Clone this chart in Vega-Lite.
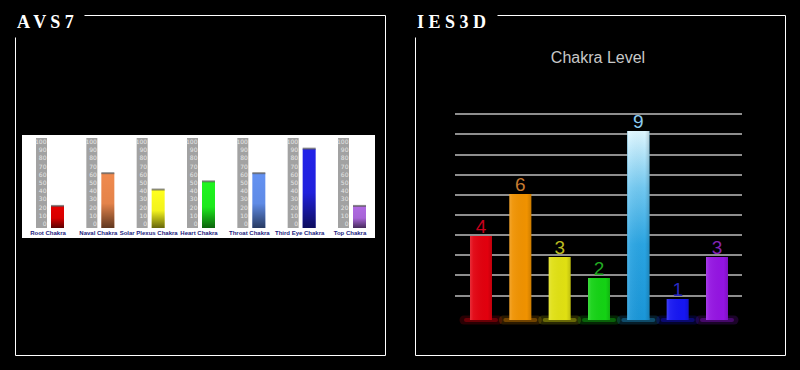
{
  "$schema": "https://vega.github.io/schema/vega-lite/v6.json",
  "background": "black",
  "padding": {"left": 14, "top": 13, "right": 15, "bottom": 15},
  "spacing": 30,
  "bounds": "flush",
  "datasets": {
    "avs": [
      {"chakra": "Root Chakra", "level": 22},
      {"chakra": "Naval Chakra", "level": 62},
      {"chakra": "Solar Plexus Chakra", "level": 42},
      {"chakra": "Heart Chakra", "level": 52},
      {"chakra": "Throat Chakra", "level": 62},
      {"chakra": "Third Eye Chakra", "level": 92},
      {"chakra": "Top Chakra", "level": 22}
    ],
    "ies": [
      {"chakra": "Root Chakra", "level": 4},
      {"chakra": "Naval Chakra", "level": 6},
      {"chakra": "Solar Plexus Chakra", "level": 3},
      {"chakra": "Heart Chakra", "level": 2},
      {"chakra": "Throat Chakra", "level": 9},
      {"chakra": "Third Eye Chakra", "level": 1},
      {"chakra": "Top Chakra", "level": 3}
    ],
    "grid": [
      {"g": 1.14}, {"g": 2.14}, {"g": 3.1}, {"g": 4.05}, {"g": 5.0},
      {"g": 5.95}, {"g": 6.9}, {"g": 7.86}, {"g": 8.86}, {"g": 9.81}
    ]
  },
  "resolve": {"scale": {"color": "independent", "fill": "independent", "x": "independent", "y": "independent"}},
  "hconcat": [
    {
      "width": 370,
      "height": 340,
      "view": {"stroke": "white", "strokeWidth": 1, "strokeDash": [1329, 91], "strokeDashOffset": -69, "fill": "black"},
      "title": {"text": "A V S 7", "anchor": "start", "orient": "top", "frame": "group", "offset": -18, "baseline": "top", "dx": 2, "dy": -1, "font": "Liberation Serif", "fontSize": 18, "fontWeight": "bold", "color": "white"},
      "data": {"name": "avs"},
      "encoding": {
        "x": {"field": "chakra", "type": "nominal", "axis": null,
          "scale": {"type": "point", "padding": 0, "domain": ["Root Chakra", "Naval Chakra", "Solar Plexus Chakra", "Heart Chakra", "Throat Chakra", "Third Eye Chakra", "Top Chakra"], "range": [35, 337]}}
      },
      "layer": [
        {
          "data": {"values": [{"box": "white"}]},
          "mark": {"type": "rect", "color": "white", "xOffset": -28, "x2Offset": 23},
          "encoding": {
            "x": {"datum": "Root Chakra", "type": "nominal"},
            "x2": {"datum": "Top Chakra"},
            "y": {"datum": 108.7, "type": "quantitative", "axis": null, "scale": {"domain": [-5, 105], "range": [213, 123], "nice": false, "zero": false}},
            "y2": {"datum": -17.2}
          }
        },
        {
          "mark": {"type": "bar", "color": "#a2a2a2", "width": 11, "xOffset": -8.5},
          "encoding": {
            "y": {"datum": 105, "type": "quantitative"},
            "y2": {"datum": -5}
          }
        },
        {
          "mark": {"type": "text", "text": ["100", "90", "80", "70", "60", "50", "40", "30", "20", "10", "0"], "lineHeight": 8.18, "fontSize": 6, "font": "DejaVu Sans", "align": "right", "baseline": "middle", "xOffset": -3.5, "color": "#e6e6e6"},
          "encoding": {
            "y": {"datum": 100, "type": "quantitative"}
          }
        },
        {
          "mark": {"type": "bar", "width": 13, "xOffset": 7.5},
          "encoding": {
            "y": {"field": "level", "type": "quantitative"},
            "y2": {"datum": -5},
            "color": {"field": "chakra", "type": "nominal", "legend": null,
              "scale": {"domain": ["Root Chakra", "Naval Chakra", "Solar Plexus Chakra", "Heart Chakra", "Throat Chakra", "Third Eye Chakra", "Top Chakra"],
                "range": ["#e40000", "#f08a4e", "#ffff1e", "#1ef51e", "#6492f2", "#2222e8", "#b06ae2"]}}
          }
        },
        {
          "mark": {"type": "bar", "width": 13, "xOffset": 7.5,
            "color": {"gradient": "linear", "x1": 0, "y1": 0, "x2": 0, "y2": 1,
              "stops": [{"offset": 0, "color": "rgba(0,0,0,0)"}, {"offset": 0.55, "color": "rgba(0,0,0,0.05)"}, {"offset": 1, "color": "rgba(0,0,0,0.6)"}]}},
          "encoding": {
            "y": {"field": "level", "type": "quantitative"},
            "y2": {"datum": -5}
          }
        },
        {
          "mark": {"type": "tick", "orient": "horizontal", "size": 13, "thickness": 2, "xOffset": 7.5, "color": "#5a5a5a"},
          "encoding": {
            "y": {"field": "level", "type": "quantitative"}
          }
        },
        {
          "mark": {"type": "text", "fontSize": 6, "fontWeight": "bold", "font": "Liberation Sans", "color": "#1b1b7e", "xOffset": -2, "baseline": "middle"},
          "encoding": {
            "y": {"datum": -11, "type": "quantitative"},
            "text": {"field": "chakra", "type": "nominal"}
          }
        }
      ]
    },
    {
      "width": 370,
      "height": 340,
      "view": {"stroke": "white", "strokeWidth": 1, "strokeDash": [1316, 104], "strokeDashOffset": -82, "fill": "black"},
      "title": {"text": "I E S 3 D", "anchor": "start", "orient": "top", "frame": "group", "offset": -18, "baseline": "top", "dx": 2, "dy": -1, "font": "Liberation Serif", "fontSize": 18, "fontWeight": "bold", "color": "white"},
      "data": {"name": "ies"},
      "encoding": {
        "x": {"field": "chakra", "type": "nominal", "axis": null,
          "scale": {"type": "point", "padding": 0, "domain": ["Root Chakra", "Naval Chakra", "Solar Plexus Chakra", "Heart Chakra", "Throat Chakra", "Third Eye Chakra", "Top Chakra"], "range": [66, 302]}}
      },
      "layer": [
        {
          "data": {"name": "grid"},
          "mark": {"type": "rule", "color": "#8e8e8e", "strokeWidth": 2, "xOffset": -26, "x2Offset": 25},
          "encoding": {
            "x": {"datum": "Root Chakra", "type": "nominal"},
            "x2": {"datum": "Top Chakra"},
            "y": {"field": "g", "type": "quantitative", "axis": null, "scale": {"domain": [0, 10], "range": [305, 95], "nice": false}}
          }
        },
        {
          "mark": {"type": "rule", "strokeWidth": 9, "opacity": 0.18, "strokeCap": "round", "xOffset": -17, "x2Offset": 17},
          "encoding": {
            "x2": {"field": "chakra"},
            "y": {"datum": 0, "type": "quantitative"},
            "color": {"field": "chakra", "type": "nominal", "legend": null,
              "scale": {"domain": ["Root Chakra", "Naval Chakra", "Solar Plexus Chakra", "Heart Chakra", "Throat Chakra", "Third Eye Chakra", "Top Chakra"],
                "range": ["#e2000e", "#f09200", "#e0e012", "#14d214", "#22a2e2", "#1616f2", "#9414e2"]}}
          }
        },
        {
          "mark": {"type": "rule", "strokeWidth": 4, "opacity": 0.35, "strokeCap": "round", "xOffset": -15, "x2Offset": 15},
          "encoding": {
            "x2": {"field": "chakra"},
            "y": {"datum": 0, "type": "quantitative"},
            "color": {"field": "chakra", "type": "nominal", "legend": null}
          }
        },
        {
          "mark": {"type": "bar", "width": 22},
          "encoding": {
            "y": {"field": "level", "type": "quantitative"},
            "y2": {"datum": 0},
            "color": {"field": "chakra", "type": "nominal", "legend": null}
          }
        },
        {
          "transform": [{"filter": "datum.chakra == 'Throat Chakra'"}],
          "mark": {"type": "bar", "width": 22,
            "color": {"gradient": "linear", "x1": 0, "y1": 0, "x2": 0, "y2": 1,
              "stops": [{"offset": 0, "color": "#dff7ff"}, {"offset": 0.3, "color": "#72c8f0"}, {"offset": 0.6, "color": "#2aa4e2"}, {"offset": 1, "color": "#1a96d8"}]}},
          "encoding": {
            "y": {"field": "level", "type": "quantitative"},
            "y2": {"datum": 0}
          }
        },
        {
          "mark": {"type": "bar", "width": 22,
            "color": {"gradient": "linear", "x1": 0, "y1": 0, "x2": 1, "y2": 0,
              "stops": [{"offset": 0, "color": "rgba(255,255,255,0.18)"}, {"offset": 0.15, "color": "rgba(255,255,255,0.06)"}, {"offset": 0.8, "color": "rgba(0,0,0,0)"}, {"offset": 1, "color": "rgba(0,0,0,0.15)"}]}},
          "encoding": {
            "y": {"field": "level", "type": "quantitative"},
            "y2": {"datum": 0}
          }
        },
        {
          "mark": {"type": "text", "fontSize": 19, "font": "Liberation Sans", "baseline": "alphabetic", "dy": -3},
          "encoding": {
            "y": {"field": "level", "type": "quantitative"},
            "text": {"field": "level", "type": "quantitative"},
            "fill": {"field": "chakra", "type": "nominal", "legend": null,
              "scale": {"domain": ["Root Chakra", "Naval Chakra", "Solar Plexus Chakra", "Heart Chakra", "Throat Chakra", "Third Eye Chakra", "Top Chakra"],
                "range": ["#c8001c", "#c87a30", "#bcbc22", "#22aa22", "#8ccdf2", "#2a2ac4", "#8424b4"]}}
          }
        },
        {
          "data": {"values": [{"title": "Chakra Level"}]},
          "mark": {"type": "text", "fontSize": 16, "font": "Liberation Sans", "color": "#c8c8c8", "baseline": "middle", "dx": -1},
          "encoding": {
            "x": {"datum": "Heart Chakra", "type": "nominal"},
            "y": {"datum": 12.5, "type": "quantitative"},
            "text": {"field": "title", "type": "nominal"}
          }
        }
      ]
    }
  ]
}
